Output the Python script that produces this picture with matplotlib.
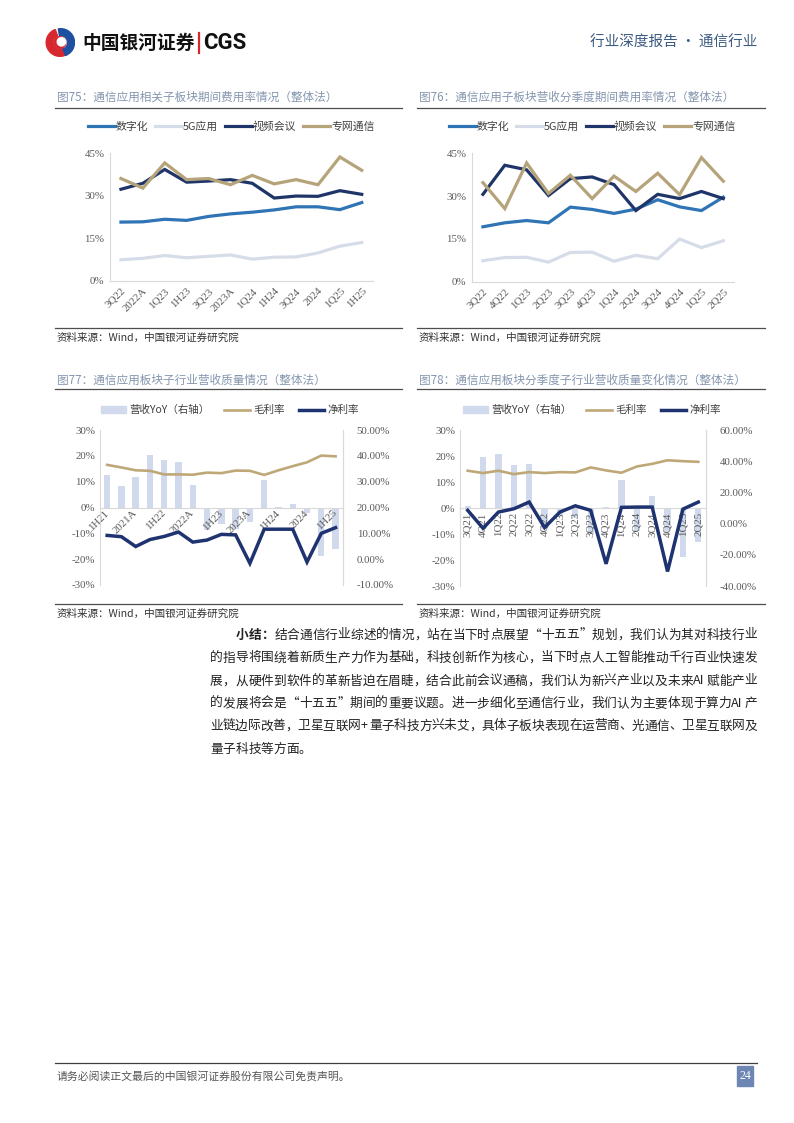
import matplotlib
matplotlib.use("Agg")
import matplotlib.pyplot as plt
from matplotlib.patches import Rectangle, Wedge
from matplotlib.lines import Line2D
from matplotlib.patches import Patch
from matplotlib.textpath import TextToPath
from matplotlib.font_manager import FontProperties
import numpy as np

plt.rcParams['font.family'] = ['Noto Sans CJK SC', 'DejaVu Sans']
plt.rcParams['axes.unicode_minus'] = False

W, H = 794, 1123
DPI = 100

# ---------------- data ----------------
cats75 = ['3Q22', '2022A', '1Q23', '1H23', '3Q23', '2023A', '1Q24', '1H24', '3Q24', '2024', '1Q25', '1H25']
digital75 = [20.7, 20.8, 21.7, 21.3, 22.7, 23.6, 24.2, 25.0, 26.1, 26.1, 25.1, 27.6]
app5g75 = [7.4, 7.9, 8.9, 8.1, 8.6, 9.1, 7.6, 8.3, 8.4, 9.8, 12.2, 13.5]
video75 = [32.3, 34.4, 39.3, 34.8, 35.2, 35.7, 34.4, 29.2, 29.9, 29.8, 31.8, 30.5]
private75 = [36.1, 32.7, 41.6, 35.7, 36.1, 33.9, 37.2, 34.2, 35.7, 33.9, 43.7, 39.0]

cats76 = ['3Q22', '4Q22', '1Q23', '2Q23', '3Q23', '4Q23', '1Q24', '2Q24', '3Q24', '4Q24', '1Q25', '2Q25']
digital76 = [19.2, 20.6, 21.4, 20.6, 26.1, 25.3, 23.9, 25.4, 28.7, 26.2, 24.9, 29.6]
app5g76 = [7.3, 8.4, 8.5, 6.8, 10.2, 10.3, 7.1, 9.2, 8.0, 14.9, 11.9, 14.3]
video76 = [30.6, 40.8, 39.2, 30.2, 36.1, 36.7, 34.0, 24.9, 30.6, 29.1, 31.6, 29.1]
private76 = [34.7, 25.6, 41.6, 30.9, 37.3, 29.1, 37.0, 31.6, 38.0, 30.5, 43.5, 35.2]

cats77 = ['1H21', '3Q21', '2021A', '1Q22', '1H22', '3Q22', '2022A', '1Q23', '1H23', '3Q23',
          '2023A', '1Q24', '1H24', '3Q24', '2024', '1Q25', '1H25']
yoy77 = [12.5, 8.3, 11.9, 20.5, 18.2, 17.8, 8.9, -8.8, -6.5, -8.5, -5.5, 10.6, 0.2, 1.4, -2.3, -18.8, -15.9]
gross77 = [36.5, 35.5, 34.4, 34.2, 32.8, 32.8, 32.7, 33.5, 33.3, 34.3, 34.2, 32.6, 34.4, 36.0, 37.5, 40.1, 39.8]
net77 = [9.2, 8.7, 4.9, 7.6, 8.8, 10.5, 6.6, 7.4, 9.6, 9.4, -1.6, 11.6, 11.6, 11.6, -1.1, 10.0, 12.2]

cats78 = ['3Q21', '4Q21', '1Q22', '2Q22', '3Q22', '4Q22', '1Q23', '2Q23', '3Q23', '4Q23',
          '1Q24', '2Q24', '3Q24', '4Q24', '1Q25', '2Q25']
yoy78 = [0.9, 19.7, 20.7, 16.6, 17.0, -8.0, -3.0, -4.0, -10.0, 0.3, 10.8, -9.0, 4.6, -9.0, -19.0, -13.0]
gross78 = [33.9, 32.4, 33.9, 31.7, 33.0, 32.4, 33.0, 32.8, 36.0, 34.1, 32.6, 36.6, 38.3, 40.6, 40.0, 39.6]
net78 = [8.5, -3.0, 7.4, 9.5, 13.8, -2.5, 7.4, 11.4, 8.5, -25.8, 10.4, 10.6, 10.6, -30.7, 9.3, 13.8]

para_lines = [
    "结合通信行业综述的情况，站在当下时点展望“十五五”规划，我们认为其对科技行业",
    "的指导将围绕着新质生产力作为基础，科技创新作为核心，当下时点人工智能推动千行百业快速发",
    "展，从硬件到软件的革新皆迫在眉睫，结合此前会议通稿，我们认为新兴产业以及未来AI赋能产业",
    "的发展将会是“十五五”期间的重要议题。进一步细化至通信行业，我们认为主要体现于算力AI产",
    "业链边际改善，卫星互联网+量子科技方兴未艾，具体子板块表现在运营商、光通信、卫星互联网及",
    "量子科技等方面。",
]

# ---------------- styles ----------------
C_DIG = '#2F74B5'
C_5G = '#D6DDE8'
C_VID = '#1F3468'
C_PRI = '#B5A37A'
C_BAR = '#D0DAEC'
C_GROSS = '#BFA878'
C_NET = '#1F3370'
C_TITLE = '#8496AE'
C_TICK = '#595959'
C_SPINE = '#D9D9D9'
CJK = ['Noto Sans CJK SC', 'DejaVu Sans']
SERIF = ['Liberation Serif', 'Noto Sans CJK SC']

fig = plt.figure(figsize=(W / DPI, H / DPI), dpi=DPI)


def fx(x):
    return x / W


def fy(y):
    return 1 - y / H


def add_ax(x0, y0, x1, y1):
    return fig.add_axes([fx(x0), fy(y1), (x1 - x0) / W, (y1 - y0) / H])


def hline(x0, x1, y, color='#404040', lw=0.8):
    fig.add_artist(Line2D([fx(x0), fx(x1)], [fy(y), fy(y)], color=color, lw=lw))


# ---------------- header ----------------
lax = add_ax(45, 28, 75, 57)
lax.set_xlim(-1.05, 1.05)
lax.set_ylim(-1.05, 1.05)
lax.set_aspect('equal')
lax.axis('off')
lax.add_patch(Wedge((0, 0), 1.0, 110, 300, width=0.5, color='#D7282F'))
lax.add_patch(Wedge((0.05, 0.0), 1.0, 290, 100, width=0.5, color='#1E4FA0'))
lax.add_patch(Wedge((0.0, 0.0), 0.42, 0, 360, color='#D7282F'))
lax.add_patch(Wedge((0.1, 0.05), 0.3, 0, 360, color='white'))

fig.text(fx(82), fy(43), "中国银河证券", fontsize=13.5, fontweight='bold', color='#111111',
         family=CJK, va='center', ha='left')
fig.add_artist(Line2D([fx(199), fx(199)], [fy(33), fy(53)], color='#D7282F', lw=1.6))
fig.text(fx(203), fy(43), "CGS", fontsize=16, fontweight='bold', color='#111111',
         family=['Roboto', 'DejaVu Sans'], va='center', ha='left')
fig.text(fx(757), fy(43), "行业深度报告 · 通信行业", fontsize=10.5, color='#3C5A82',
         family=CJK, va='center', ha='right')


# ---------------- chart titles / source lines ----------------
def block_frame(x0, x1, title, y_title, y_line, y_bot, y_src):
    fig.text(fx(x0 + 2), fy(y_title), title, fontsize=8.4, color=C_TITLE, family=CJK,
             va='center', ha='left')
    hline(x0, x1, y_line, color='#4D4D4D', lw=0.9)
    hline(x0, x1, y_bot, color='#4D4D4D', lw=0.9)
    fig.text(fx(x0 + 2), fy(y_src), "资料来源：Wind，中国银河证券研究院", fontsize=7.6,
             color='#333333', family=CJK, va='center', ha='left', style='italic')


block_frame(55, 402, "图75：通信应用相关子板块期间费用率情况（整体法）", 97.5, 107.5, 327.5, 338)
block_frame(417, 765, "图76：通信应用子板块营收分季度期间费用率情况（整体法）", 97.5, 107.5, 327.5, 338)
block_frame(55, 402, "图77：通信应用板块子行业营收质量情况（整体法）", 380, 389.5, 603.5, 614)
block_frame(417, 765, "图78：通信应用板块分季度子行业营收质量变化情况（整体法）", 380, 389.5, 603.5, 614)


# ---------------- line charts (75, 76) ----------------
def line_chart(box, cats, series, legend_center):
    ax = add_ax(*box)
    x = np.arange(len(cats))
    names = ['数字化', '5G应用', '视频会议', '专网通信']
    cols = [C_DIG, C_5G, C_VID, C_PRI]
    order = [1, 0, 3, 2]  # drawing order
    handles = {}
    for i in order:
        ln, = ax.plot(x, series[i], color=cols[i], lw=2.3, solid_joinstyle='miter',
                      label=names[i], zorder=2 + i)
        handles[i] = ln
    ax.set_xlim(-0.5, len(cats) - 0.5)
    ax.set_ylim(0, 45)
    ax.set_yticks([0, 15, 30, 45])
    ax.set_yticklabels(['0%', '15%', '30%', '45%'])
    ax.set_xticks(x)
    ax.set_xticklabels(cats, rotation=45, ha='right', rotation_mode='anchor')
    ax.tick_params(length=0, pad=4, labelsize=7.8, colors=C_TICK)
    for lab in ax.get_xticklabels() + ax.get_yticklabels():
        lab.set_family(SERIF)
    for s in ['top', 'right']:
        ax.spines[s].set_visible(False)
    ax.spines['left'].set_color(C_SPINE)
    ax.spines['bottom'].set_color(C_SPINE)
    ax.patch.set_alpha(0)
    fig.legend([handles[i] for i in range(4)], names, loc='center',
               bbox_to_anchor=(fx(legend_center[0]), fy(legend_center[1])), ncol=4,
               frameon=False, handlelength=2.5, handletextpad=0.1, columnspacing=0.6,
               prop={'family': CJK, 'size': 7.8}, labelcolor='#404040')
    return ax


line_chart((110, 153.3, 372.7, 280.7), cats75, [digital75, app5g75, video75, private75], (231, 127))
line_chart((472, 153.3, 734.2, 281.5), cats76, [digital76, app5g76, video76, private76], (592, 127))


# ---------------- bar + line charts (77, 78) ----------------
def combo_chart(box, cats, yoy, gross, net, rlim, rticks, rlabels, xrot, show_every, legend_center, bw):
    ax = add_ax(*box)
    x = np.arange(len(cats))
    ax.bar(x, yoy, width=bw, color=C_BAR, zorder=1)
    ax.set_xlim(-0.5, len(cats) - 0.5)
    ax.set_ylim(-30, 30)
    ax.set_yticks([-30, -20, -10, 0, 10, 20, 30])
    ax.set_yticklabels(['-30%', '-20%', '-10%', '0%', '10%', '20%', '30%'])
    ax.spines['bottom'].set_position(('data', 0))
    ax.spines['bottom'].set_color(C_SPINE)
    ax.spines['left'].set_color(C_SPINE)
    ax.spines['right'].set_color(C_SPINE)
    ax.spines['top'].set_visible(False)
    ax.set_xticks(x)
    labs = [c if (i % show_every == 0) else '' for i, c in enumerate(cats)]
    if xrot == 45:
        ax.set_xticklabels(labs, rotation=45, ha='right', va='center', rotation_mode='anchor')
    else:
        ax.set_xticklabels(labs, rotation=90, ha='center', va='top')
    ax.tick_params(length=0, labelsize=7.8, colors=C_TICK)
    ax.tick_params(axis='x', pad=3)
    for lab in ax.get_xticklabels() + ax.get_yticklabels():
        lab.set_family(SERIF)
    ax2 = ax.twinx()
    lg, = ax2.plot(x, gross, color=C_GROSS, lw=1.9, zorder=3)
    ln, = ax2.plot(x, net, color=C_NET, lw=2.5, zorder=4, solid_joinstyle='miter')
    ax2.set_ylim(*rlim)
    ax2.set_yticks(rticks)
    ax2.set_yticklabels(rlabels)
    ax2.tick_params(length=0, labelsize=7.8, colors=C_TICK, pad=10)
    for lab in ax2.get_yticklabels():
        lab.set_family(SERIF)
    for s in ['top', 'bottom', 'left']:
        ax2.spines[s].set_visible(False)
    ax2.spines['right'].set_color(C_SPINE)
    fig.legend([Patch(color=C_BAR), lg, ln], ['营收YoY（右轴）', '毛利率', '净利率'], loc='center',
               bbox_to_anchor=(fx(legend_center[0]), fy(legend_center[1])), ncol=3,
               frameon=False, handlelength=2.4, handleheight=0.6, handletextpad=0.3,
               columnspacing=1.4, prop={'family': CJK, 'size': 7.6}, labelcolor='#404040')
    return ax, ax2


combo_chart((100, 430, 342.7, 585), cats77, yoy77, gross77, net77, (-10, 50),
            [-10, 0, 10, 20, 30, 40, 50],
            ['-10.00%', '0.00%', '10.00%', '20.00%', '30.00%', '40.00%', '50.00%'],
            45, 2, (230, 410), 0.45)
combo_chart((460, 430, 706, 586), cats78, yoy78, gross78, net78, (-40, 60),
            [-40, -20, 0, 20, 40, 60],
            ['-40.00%', '-20.00%', '0.00%', '20.00%', '40.00%', '60.00%'],
            90, 1, (592, 410), 0.4)

# ---------------- paragraph (justified) ----------------
ttp = TextToPath()
FS = 9.15
EM = FS * DPI / 72.0


def tokens(s):
    out = []
    buf = ''
    for ch in s:
        if ord(ch) < 128:
            buf += ch
        else:
            if buf:
                out.append(buf)
                buf = ''
            out.append(ch)
    if buf:
        out.append(buf)
    return out


def tok_w(t, fp):
    if ord(t[0]) >= 128:
        return EM
    w, h, d = ttp.get_text_width_height_descent(t, fp, ismath=False)
    return w * DPI / 72.0 + 0.15 * EM


def draw_line(s, x0, x1, y, justify=True, bold_prefix=None):
    fp = FontProperties(family='Noto Sans CJK SC', size=FS)
    toks = []
    if bold_prefix:
        for t in tokens(bold_prefix):
            toks.append((t, True))
    for t in tokens(s):
        toks.append((t, False))
    widths = [tok_w(t, fp) for t, b in toks]
    gap = 0.0
    if justify and len(toks) > 1:
        gap = (x1 - x0 - sum(widths)) / (len(toks) - 1)
    x = x0
    for (t, b), w in zip(toks, widths):
        fig.text(fx(x), fy(y), t, fontsize=FS, family=CJK, color='#222222',
                 fontweight='bold' if b else 'normal', ha='left', va='center')
        x += w + gap


ys = [635, 658, 681, 703.5, 726, 749]
for i, s in enumerate(para_lines):
    if i == 0:
        draw_line(s, 236, 757, ys[i], justify=True, bold_prefix="小结：")
    elif i == len(para_lines) - 1:
        draw_line(s, 210, 757, ys[i], justify=False)
    else:
        draw_line(s, 210, 757, ys[i], justify=True)

# ---------------- footer ----------------
hline(55, 757, 1063, color='#404040', lw=0.9)
fig.text(fx(57), fy(1076), "请务必阅读正文最后的中国银河证券股份有限公司免责声明。", fontsize=7.8,
         color='#555555', family=CJK, va='center', ha='left')
fig.add_artist(Rectangle((fx(737), fy(1086)), 16 / W, 20 / H, color='#6D86B3',
                         transform=fig.transFigure))
fig.text(fx(745), fy(1076), "24", fontsize=8.5, color='white', family=SERIF,
         va='center', ha='center')

fig.savefig('out.png', dpi=DPI)
